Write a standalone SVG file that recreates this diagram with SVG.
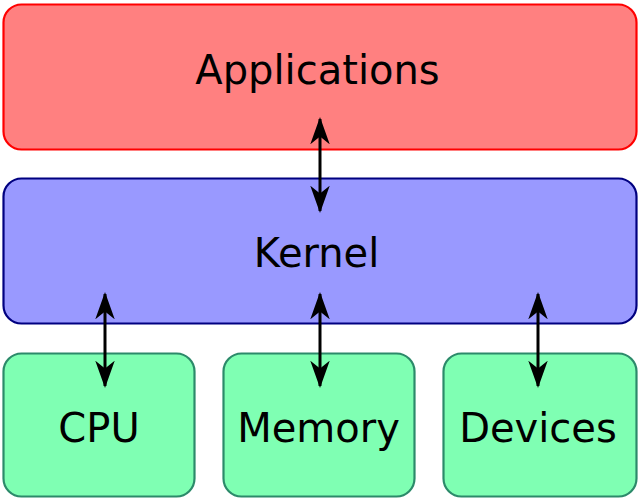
<svg xmlns="http://www.w3.org/2000/svg" width="640" height="503" viewBox="0 0 640 503">
<defs>
<marker id="ah" viewBox="0 0 14 10" refX="13" refY="5" markerWidth="9.1" markerHeight="6.5" orient="auto-start-reverse" markerUnits="strokeWidth">
<path d="M0,0 L14,5 L0,10 L4,5 Z" fill="#000"/>
</marker>
<style>
.t{font-family:"DejaVu Sans",sans-serif;font-size:40px;fill:#000;text-anchor:middle}
.app{fill:#ff8080;stroke:#ff0000;stroke-width:2.2}
.ker{fill:#9999ff;stroke:#000080;stroke-width:2.2}
.hw{fill:#7fffb3;stroke:#2c8a6a;stroke-width:2.2}
.c{stroke:#000;stroke-width:3;fill:none;marker-start:url(#ah);marker-end:url(#ah)}
</style>
</defs>
<rect width="640" height="503" fill="#fff"/>
<g id="applications">
<rect class="app" x="3.5" y="4.5" width="633" height="145" rx="18"/>
<text class="t" x="317.5" y="84">Applications</text>
</g>
<g id="kernel">
<rect class="ker" x="3.5" y="178.5" width="633" height="145" rx="18"/>
<text class="t" x="316.5" y="267">Kernel</text>
</g>
<g id="cpu">
<rect class="hw" x="3.5" y="353.5" width="191" height="143" rx="18"/>
<text class="t" x="99" y="442">CPU</text>
</g>
<g id="memory">
<rect class="hw" x="223.5" y="353.5" width="191" height="143" rx="18"/>
<text class="t" x="318.5" y="442">Memory</text>
</g>
<g id="devices">
<rect class="hw" x="443.5" y="353.5" width="193" height="143" rx="18"/>
<text class="t" x="538" y="442">Devices</text>
</g>
<g id="connectors">
<line class="c" x1="320" y1="119" x2="320" y2="211"/>
<line class="c" x1="105" y1="294" x2="105" y2="386"/>
<line class="c" x1="320" y1="294" x2="320" y2="386"/>
<line class="c" x1="538" y1="294" x2="538" y2="386"/>
</g>
</svg>
